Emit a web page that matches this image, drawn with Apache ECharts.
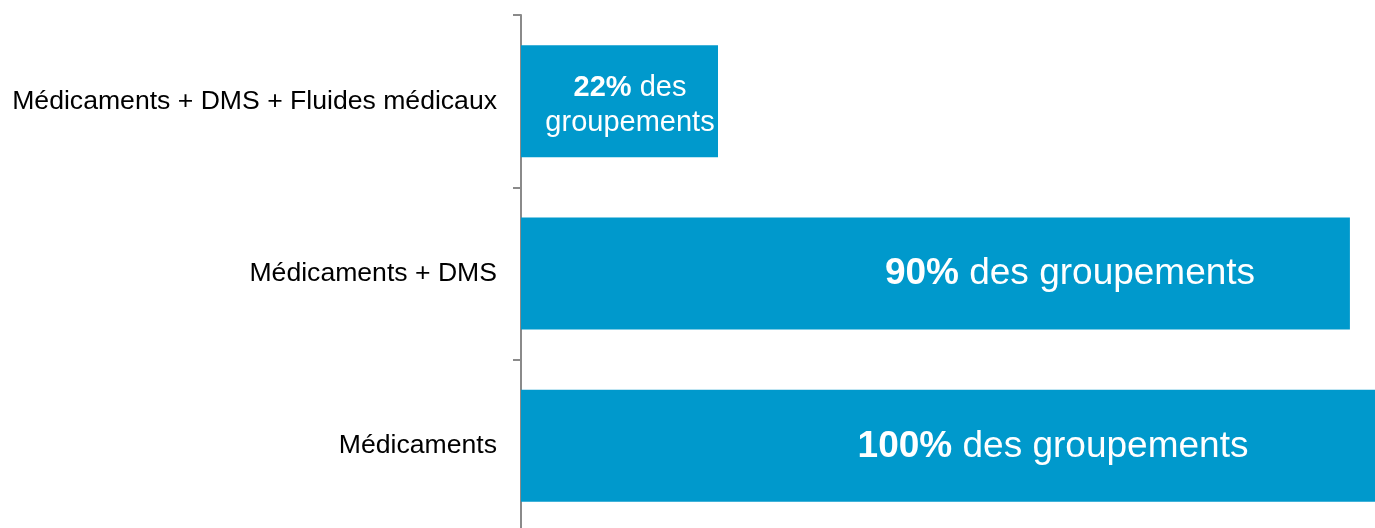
<!DOCTYPE html>
<html>
<head>
<meta charset="utf-8">
<script src="https://cdn.jsdelivr.net/npm/echarts@6/dist/echarts.min.js"></script>
<style>
html,body{margin:0;padding:0;background:#fff;}
#main{width:1375px;height:528px;}
</style>
</head>
<body>
<div id="main"></div>
<script>
const categories = ["Médicaments + DMS + Fluides médicaux", "Médicaments + DMS", "Médicaments"];
const values = [22, 90, 100];
const labelTexts = ["{b|22%} des\ngroupements", "{b|90%} des groupements", "{b|100%} des groupements"];

const FONT = "'Liberation Sans', Arial, sans-serif";
const labelStyles = [
  {position: [109, 60], fontSize: 29, lineHeight: 35},
  {position: [549, 56], fontSize: 37, lineHeight: 44},
  {position: [532, 57], fontSize: 37, lineHeight: 44}
];

const chart = echarts.init(document.getElementById('main'), null, {renderer: 'canvas'});
chart.setOption({
  animation: false,
  grid: {left: 521, top: 15, width: 854, height: 517, containLabel: false, outerBoundsMode: 'none'},
  xAxis: {
    type: 'value', min: 0.8, max: 92.7, show: false
  },
  yAxis: {
    type: 'category',
    data: categories,
    inverse: true,
    boundaryGap: true,
    axisLine: {show: true, lineStyle: {color: '#8a8a8a', width: 2}},
    axisTick: {show: true, length: 8, lineStyle: {color: '#8a8a8a', width: 2}},
    axisLabel: {color: '#000', fontSize: 26.6, fontFamily: FONT, margin: 24},
    splitLine: {show: false}
  },
  series: [{
    type: 'bar',
    barWidth: 112,
    clip: true,
    itemStyle: {color: '#0099CC'},
    data: values.map((v, i) => ({
      value: v,
      label: {
        show: true,
        formatter: labelTexts[i],
        position: labelStyles[i].position,
        align: 'center',
        verticalAlign: 'middle',
        color: '#fff',
        fontFamily: FONT,
        fontSize: labelStyles[i].fontSize,
        lineHeight: labelStyles[i].lineHeight,
        rich: {
          b: {fontWeight: 'bold', color: '#fff', fontFamily: FONT, fontSize: labelStyles[i].fontSize, lineHeight: labelStyles[i].lineHeight}
        }
      }
    }))
  }]
});
</script>
</body>
</html>
